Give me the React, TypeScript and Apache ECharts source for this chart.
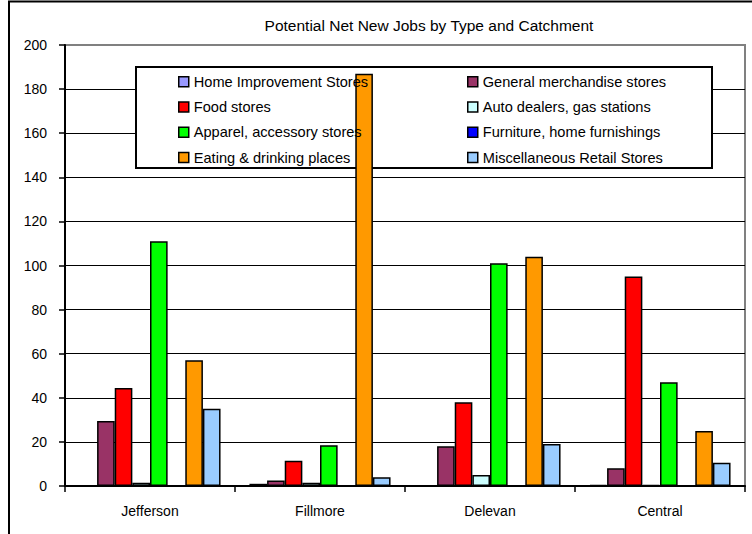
import React, { useEffect, useRef } from "react";
import * as echarts from "echarts";

const categories = ["Jefferson", "Fillmore", "Delevan", "Central"];
const homeImprovement = [0, 1, 0, 0.5];
const generalMerch = [29.5, 2.5, 18, 8];
const foodStores = [44.5, 11.5, 38, 95];
const autoDealers = [1.5, 1.5, 5, 0.5];
const apparel = [111, 18.5, 101, 47];
const furniture = [0, 0, 0, 0];
const eating = [57, 187, 104, 25];
const miscRetail = [35, 4, 19, 10.5];
const yTicks = { min: 0, max: 200, interval: 20 };

const seriesDefs = [
  { name: "Home Improvement Stores", data: homeImprovement, color: "#9999FF" },
  { name: "General merchandise stores", data: generalMerch, color: "#993366" },
  { name: "Food stores", data: foodStores, color: "#FF0000" },
  { name: "Auto dealers, gas stations", data: autoDealers, color: "#CCFFFF" },
  { name: "Apparel, accessory stores", data: apparel, color: "#00FF00" },
  { name: "Furniture, home furnishings", data: furniture, color: "#0000FF" },
  { name: "Eating & drinking places", data: eating, color: "#FF9900" },
  { name: "Miscellaneous Retail Stores", data: miscRetail, color: "#99CCFF" },
];

const FONT = "'Liberation Sans', Arial, sans-serif";

export default function App() {
  const ref = useRef<HTMLDivElement>(null);
  useEffect(() => {
    if (!ref.current) return;
    const chart = echarts.init(ref.current, undefined, { renderer: "svg" });
    const legendCommon = {
      orient: "vertical",
      top: 73.7,
      itemGap: 9.3,
      itemWidth: 10,
      itemHeight: 10,
      padding: 0,
      icon: "rect",
      selectedMode: false,
      itemStyle: { borderColor: "#000", borderWidth: 1.5 },
      textStyle: { fontSize: 14.6, color: "#000", fontFamily: FONT, lineHeight: 16 },
    };
    const splitColors = Array.from({ length: 11 }, (_, i) => (i === 10 ? "#808080" : "#000"));
    chart.setOption({
      animation: false,
      backgroundColor: "#fff",
      textStyle: { fontFamily: FONT },
      title: {
        text: "Potential Net New Jobs by Type and Catchment",
        left: 424,
        top: 12,
        textAlign: "center",
        textStyle: { fontSize: 15.5, fontWeight: "normal", color: "#000", fontFamily: FONT },
      },
      legend: [
        {
          ...legendCommon,
          left: 178,
          data: [seriesDefs[0].name, seriesDefs[2].name, seriesDefs[4].name, seriesDefs[6].name],
        },
        {
          ...legendCommon,
          left: 467,
          data: [seriesDefs[1].name, seriesDefs[3].name, seriesDefs[5].name, seriesDefs[7].name],
        },
      ],
      graphic: [
        {
          type: "rect",
          z: 0,
          shape: { x: 9, y: 1.5, width: 900, height: 700 },
          style: { fill: "none", stroke: "#000", lineWidth: 2 },
          silent: true,
        },
        {
          type: "rect",
          z: 1,
          shape: { x: 136, y: 67, width: 576, height: 101 },
          style: { fill: "#fff", stroke: "#000", lineWidth: 2 },
          silent: true,
        },
      ],
      grid: {
        left: 65,
        right: 7,
        top: 45,
        bottom: 48,
        show: true,
        borderColor: "#808080",
        borderWidth: 2,
        backgroundColor: "transparent",
      },
      xAxis: {
        type: "category",
        data: categories,
        axisLine: { show: true, lineStyle: { color: "#000", width: 2 } },
        axisTick: { show: true, length: 6, lineStyle: { color: "#000", width: 1.5 } },
        axisLabel: { margin: 18, fontSize: 14, color: "#000", fontFamily: FONT },
        splitLine: { show: false },
      },
      yAxis: {
        type: "value",
        min: yTicks.min,
        max: yTicks.max,
        interval: yTicks.interval,
        axisLine: { show: true, lineStyle: { color: "#000", width: 2 } },
        axisTick: { show: true, length: 6, lineStyle: { color: "#000", width: 1.5 } },
        axisLabel: { margin: 18, fontSize: 14, color: "#000", fontFamily: FONT },
        splitLine: { show: true, lineStyle: { color: splitColors, width: 1 } },
      },
      series: seriesDefs.map((s) => ({
        name: s.name,
        type: "bar",
        data: s.data,
        z: 2,
        barGap: "0%",
        barCategoryGap: "17%",
        itemStyle: { color: s.color, borderColor: "#000", borderWidth: 1.5 },
      })),
    });
    return () => chart.dispose();
  }, []);
  return (
    <div
      ref={ref}
      style={{ position: "fixed", left: 0, top: 0, width: 752, height: 534 }}
    />
  );
}
